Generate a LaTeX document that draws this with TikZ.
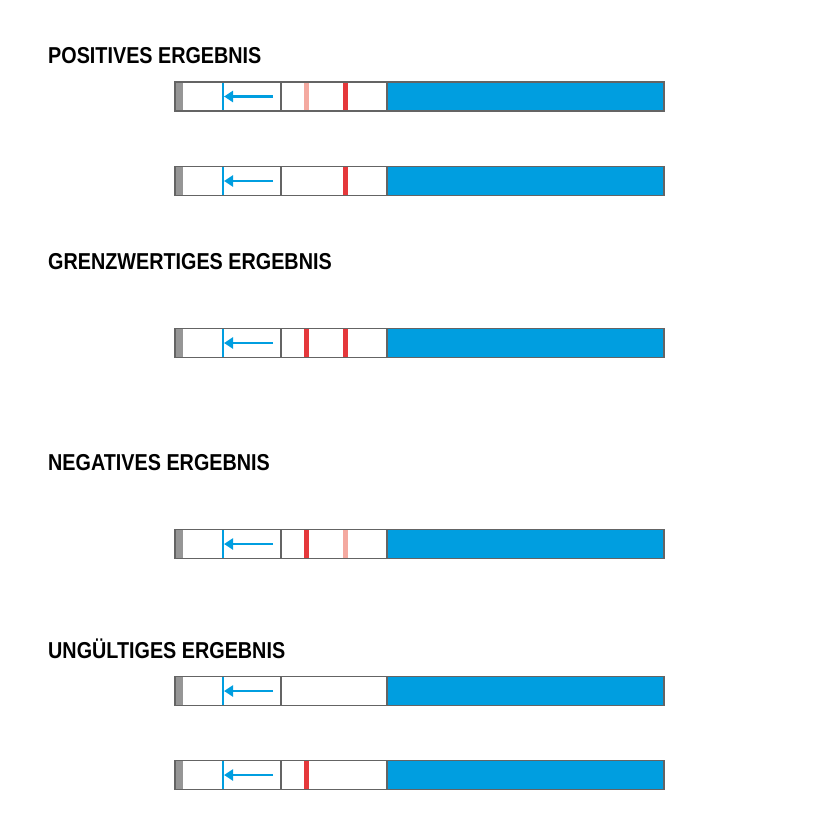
\documentclass[tikz,border=0pt]{standalone}
\usepackage{fontspec}
\setmainfont{Liberation Sans}
\usetikzlibrary{arrows.meta}
\definecolor{stripblue}{RGB}{0,158,224}
\definecolor{markred}{RGB}{229,56,59}
\definecolor{markpink}{RGB}{244,169,160}
\definecolor{capgray}{RGB}{150,150,150}
\definecolor{edgegray}{RGB}{100,100,100}
\tikzset{
  heading/.style={anchor=base west, inner sep=0pt, font=\bfseries\fontsize{23}{23}\selectfont},
  edge/.style={draw=edgegray, line width=1.4pt},
  flowarrow/.style={draw=stripblue, line width=2.3pt, -{Triangle[length=9pt,width=11pt]}},
  pics/teststrip/.style n args={2}{code={
    \fill[stripblue] (387,0) rectangle (664,29);
    \fill[capgray] (175,0) rectangle (183,29);
    \ifx#1\empty\else\fill[#1] (303.5,0) rectangle (309,29);\fi
    \ifx#2\empty\else\fill[#2] (342.5,0) rectangle (348,29);\fi
    \draw[stripblue, line width=1.6pt] (223,0) -- (223,29);
    \draw[flowarrow] (273,14.5) -- (224,14.5);
    \draw[edgegray, line width=1.2pt] (281,0) -- (281,29);
    \draw[edge] (175,0) rectangle (664,29);
    \draw[edgegray, line width=1.2pt] (387,0) -- (387,29);
  }}
}
\begin{document}
\begin{tikzpicture}[x=1pt,y=-1pt]
\useasboundingbox (0,0) rectangle (840,840);
\node[heading] (h1) at (48,63.5) {\scalebox{0.86}[1]{POSITIVES ERGEBNIS}};
\node[heading] (h2) at (48,269.5) {\scalebox{0.86}[1]{GRENZWERTIGES ERGEBNIS}};
\node[heading] (h3) at (48,470.5) {\scalebox{0.86}[1]{NEGATIVES ERGEBNIS}};
\node[heading] (h4) at (48,658.5) {\scalebox{0.86}[1]{UNGÜLTIGES ERGEBNIS}};
\pic at (0,82) {teststrip={markpink}{markred}};
\pic at (0,166.5) {teststrip={}{markred}};
\pic at (0,328.5) {teststrip={markred}{markred}};
\pic at (0,529.5) {teststrip={markred}{markpink}};
\pic at (0,676.5) {teststrip={}{}};
\pic at (0,760.5) {teststrip={markred}{}};
\end{tikzpicture}
\end{document}
